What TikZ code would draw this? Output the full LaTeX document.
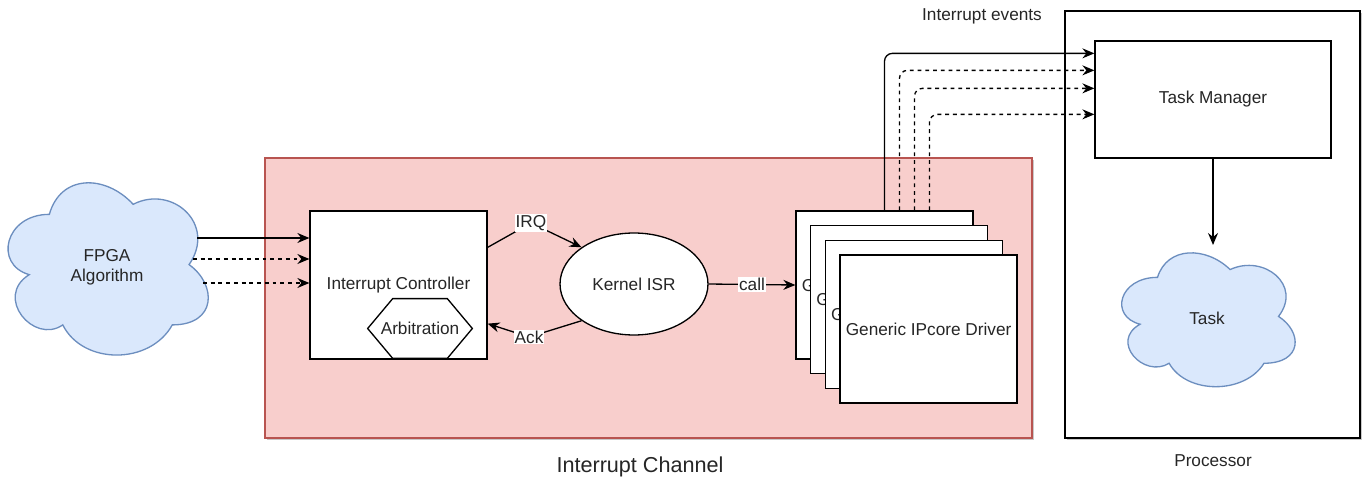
\documentclass[tikz,border=0pt]{standalone}
\usepackage{fontspec}
\setmainfont{Liberation Sans}
\usepackage{tikz}
\usetikzlibrary{calc,arrows.meta,shapes.geometric,shadows}
\definecolor{chanfill}{HTML}{F8CECC}
\definecolor{chanline}{HTML}{B85450}
\definecolor{cloudfill}{HTML}{DAE8FC}
\definecolor{cloudline}{HTML}{6C8EBF}
\definecolor{ink}{HTML}{262626}
\def\cloudshape[#1](#2,#3)(#4,#5){\draw[#1, shift={(#2,#3)}, xscale=#4, yscale=#5] (0.25,0.25) .. controls (0.05,0.25) and (0,0.5) .. (0.16,0.55) .. controls (0,0.66) and (0.18,0.9) .. (0.31,0.8) .. controls (0.4,1) and (0.7,1) .. (0.8,0.8) .. controls (1,0.8) and (1,0.6) .. (0.875,0.5) .. controls (1,0.3) and (0.8,0.1) .. (0.625,0.2) .. controls (0.5,0.05) and (0.3,0.05) .. (0.25,0.25) -- cycle;}
\tikzset{
	txt/.style={font=\fontsize{9.8}{11.3}\selectfont, text=ink, inner sep=0pt},
	box/.style={txt, draw, fill=white, line width=0.75pt},
	drvbox/.style={box, minimum width=3.54cm, minimum height=2.96cm},
	shade/.style={drop shadow={shadow xshift=1.2pt, shadow yshift=-1.2pt, opacity=0.3, fill=black!70}},
	lbl/.style={txt, fill=white, inner sep=0.6pt},
	arrow/.style={-{Stealth[length=2.4mm, width=2mm, inset=0.8mm]}, line width=0.75pt},
	dashline/.style={dash pattern=on 2.2pt off 2.2pt},
	cloudbox/.style={fill=cloudfill, draw=cloudline, line width=0.75pt}
}

\begin{document}
\begin{tikzpicture}[x=0.02cm, y=-0.02cm]
			%%%%% START %%%%%
			\useasboundingbox (0,0) rectangle (1364,483);
			
			\node[shade, fill=chanfill, draw=chanline, line width=0.75pt, minimum width=15.34cm, minimum height=5.6cm] (chan) at (648.5,298) {};
			\node[txt, font=\fontsize{12.3}{14}\selectfont] (chanlbl) at (640,467) {Interrupt Channel};
			
			\node[box, shade, minimum width=5.9cm, minimum height=8.54cm] (proc) at (1212.5,224.5) {};
			\node[txt] (proclbl) at (1213,461) {Processor};
			
			\cloudshape[cloudbox](-6.5,164.1)(223.5,201)
			\node[txt, align=center] (fpga) at (107,267) {FPGA\\Algorithm};
			
			\cloudshape[cloudbox](1109.1,238.3)(193.6,156.2)
			\node[txt] (task) at (1207,318) {Task};
			
			\node[box, minimum width=3.54cm, minimum height=2.96cm] (ctrl) at (398.5,285) {Interrupt Controller};
			\node[txt, minimum width=2.08cm, minimum height=1.18cm] (arb) at (420,328.5) {Arbitration};
			\draw[line width=0.75pt] (arb.west) -- ($(arb.north west)+(25,0)$) -- ($(arb.north east)+(-25,0)$) -- (arb.east) -- ($(arb.south east)+(-25,0)$) -- ($(arb.south west)+(25,0)$) -- cycle;
			
			\node[box, ellipse, minimum width=2.96cm, minimum height=2.04cm] (isr) at (634,284) {Kernel ISR};
			
			\foreach \i in {1,...,4}
				\node[drvbox] (drv\i) at ({884.5+14.7*(\i-1)},{285+14.7*(\i-1)}) {Generic IPcore Driver};
			
			\node[box, minimum width=4.72cm, minimum height=2.34cm] (tm) at (1213,99.5) {Task Manager};
			\node[txt] (evlbl) at (982,16) {Interrupt events};
			
			% FPGA lines into the controller
			\coordinate (fpga-a) at (197,238);
			\coordinate (fpga-b) at (193,259);
			\coordinate (fpga-c) at (203,283);
			\foreach \c/\ls in {a/solid, b/dashline, c/dashline}
				\draw[arrow, \ls] (fpga-\c) -- (fpga-\c -| ctrl.west);
			
			\coordinate (irqbend) at (531,223);
			\coordinate (ackbend) at (529,337);
			\draw[arrow] ($(ctrl.north east)+(0,37)$) -- (irqbend) node[lbl] {IRQ} -- (isr.145);
			\draw[arrow] (isr.215) -- (ackbend) node[lbl] {Ack} -- ($(ctrl.south east)+(0,-36)$);
			\draw[arrow] (isr.east) -- (drv1.west) node[lbl, midway] {call};
			
			% events up to the task manager
			\foreach \dx/\dy/\ls in {0/13/solid, 15/30/dashline, 30/48/dashline, 45/74/dashline}
				\draw[arrow, \ls, rounded corners=4.5pt] ($(drv1.north)+(\dx,0)$) |- ($(tm.north west)+(0,\dy)$);
			
			\coordinate (tasktop) at (1213,245);
			\draw[arrow] (tm.south) -- (tasktop);
			
			%%%%% END %%%%%
\end{tikzpicture}
\end{document}
